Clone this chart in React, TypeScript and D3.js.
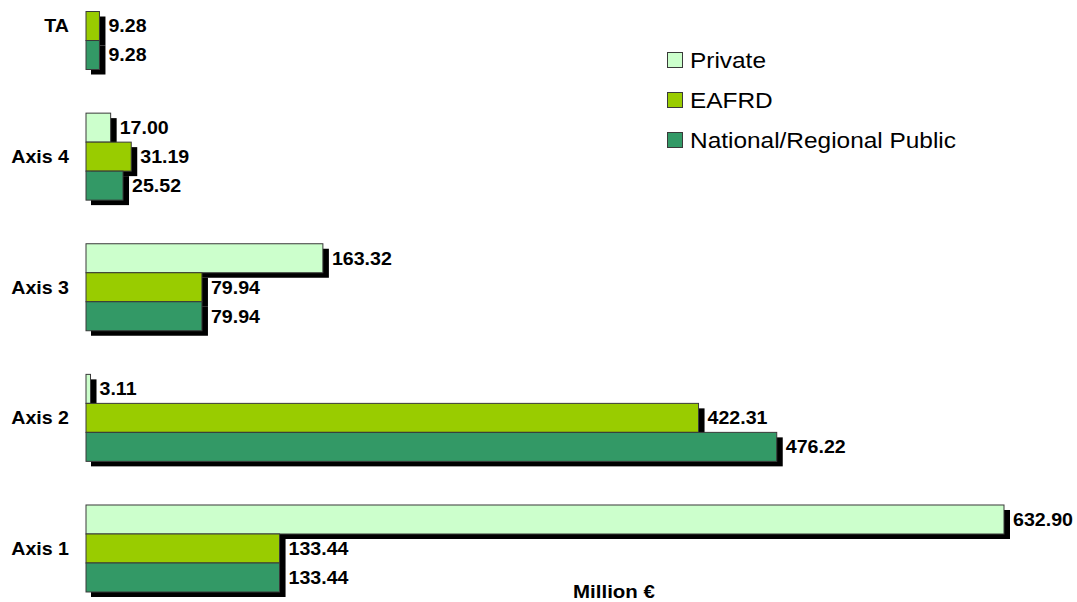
import React from "react";
import * as d3 from "d3";

const categories = ["TA", "Axis 4", "Axis 3", "Axis 2", "Axis 1"];
const seriesNames = ["Private", "EAFRD", "National/Regional Public"];
const privateValues = [0, 17.0, 163.32, 3.11, 632.9];
const eafrdValues = [9.28, 31.19, 79.94, 422.31, 133.44];
const nationalValues = [9.28, 25.52, 79.94, 476.22, 133.44];
const colors = ["#ccffcc", "#99cc00", "#339966"];
const axisTitle = "Million €";

const W = 1077;
const H = 602;
const FONT = "'Liberation Sans', Arial, sans-serif";

export default function App() {
  const x = d3.scaleLinear().domain([0, 632.9]).range([86, 1004]);
  const y = d3
    .scaleBand<string>()
    .domain(categories)
    .range([-39.3, 613.8])
    .paddingInner(0.334)
    .paddingOuter(0.167);
  const inner = d3
    .scaleBand<string>()
    .domain(seriesNames)
    .range([0, y.bandwidth()]);

  const seriesValues = [privateValues, eafrdValues, nationalValues];
  const bars: { cat: string; s: number; v: number; x0: number; x1: number; y0: number; h: number }[] = [];
  categories.forEach((c, i) => {
    seriesNames.forEach((sn, s) => {
      const v = seriesValues[s][i];
      if (!v) return;
      bars.push({
        cat: c,
        s,
        v,
        x0: x(0),
        x1: x(v),
        y0: (y(c) ?? 0) + (inner(sn) ?? 0),
        h: inner.bandwidth(),
      });
    });
  });

  const sx = 1.06;

  return (
    <svg width={W} height={H} style={{ position: "absolute", left: 0, top: 0, background: "#fff" }}>
      <rect x={0} y={0} width={W} height={H} fill="#fff" />
      {/* shadows */}
      {bars.map((b, i) => (
        <rect key={"sh" + i} x={b.x0 + 5} y={b.y0 + 5} width={b.x1 - b.x0 + 1} height={b.h} fill="#000" />
      ))}
      {bars.map((b, i) => (
        <rect
          key={"b" + i}
          x={b.x0}
          y={b.y0}
          width={b.x1 - b.x0}
          height={b.h}
          fill={colors[b.s]}
          stroke="#3a3a3a"
          strokeWidth={1}
        />
      ))}
      {bars.map((b, i) => (
        <text
          key={"t" + i}
          transform={`translate(${b.x1 + 9},${b.y0 + b.h / 2}) scale(${sx},1)`}
          dominantBaseline="central"
          fontFamily={FONT}
          fontWeight="bold"
          fontSize={18.5}
          fill="#000"
        >
          {b.v.toFixed(2)}
        </text>
      ))}
      {categories.map((c) => (
        <text
          key={c}
          transform={`translate(69,${(y(c) ?? 0) + y.bandwidth() / 2}) scale(${sx},1)`}
          textAnchor="end"
          dominantBaseline="central"
          fontFamily={FONT}
          fontWeight="bold"
          fontSize={18.5}
          fill="#000"
        >
          {c}
        </text>
      ))}
      {seriesNames.map((sn, i) => (
        <g key={sn} transform={`translate(667,${52 + i * 40})`}>
          <rect x={0.5} y={0.5} width={15} height={15} fill={colors[i]} stroke="#3a3a3a" strokeWidth={1} />
          <text
            transform={`translate(23,8) scale(1.1,1)`}
            dominantBaseline="central"
            fontFamily={FONT}
            fontSize={22.2}
            fill="#000"
          >
            {sn}
          </text>
        </g>
      ))}
      <text
        transform={`translate(614,592) scale(1.17,1)`}
        textAnchor="middle"
        dominantBaseline="central"
        fontFamily={FONT}
        fontWeight="bold"
        fontSize={17.5}
        fill="#000"
      >
        {axisTitle}
      </text>
    </svg>
  );
}
